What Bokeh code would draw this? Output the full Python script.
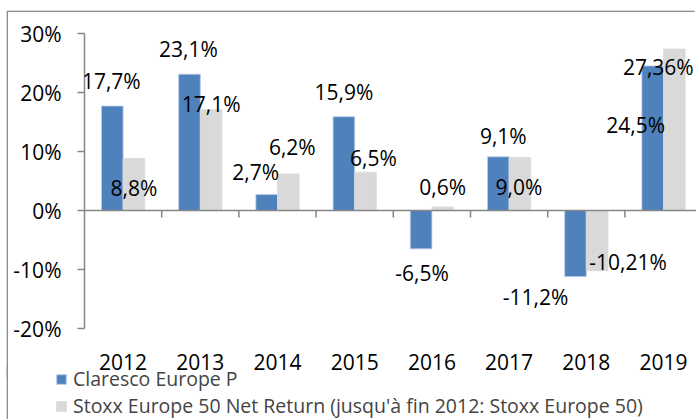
import math
from bokeh.plotting import figure
from bokeh.layouts import column
from bokeh.models import (Range1d, FixedTicker, LabelSet, ColumnDataSource, Span,
                          Legend, LegendItem)
from bokeh.core.properties import value
from bokeh.transform import dodge
from bokeh.embed import file_html
from bokeh.resources import INLINE

# ---- data ----
years = ["2012", "2013", "2014", "2015", "2016", "2017", "2018", "2019"]
claresco = [17.7, 23.1, 2.7, 15.9, -6.5, 9.1, -11.2, 24.5]
stoxx = [8.8, 17.1, 6.2, 6.5, 0.6, 9.0, -10.21, 27.36]
claresco_labels = ["17,7%", "23,1%", "2,7%", "15,9%", "-6,5%", "9,1%", "-11,2%", "24,5%"]
stoxx_labels = ["8,8%", "17,1%", "6,2%", "6,5%", "0,6%", "9,0%", "-10,21%", "27,36%"]
y_ticks = [-20, -10, 0, 10, 20, 30]
series_names = ["Claresco Europe P",
                "Stoxx Europe 50 Net Return (jusqu'à fin 2012: Stoxx Europe 50)"]

# label placement offsets (screen px, +dx right, +dy down)
claresco_dx = [-1, -1, -11, 0, 1, 5, -40, -17]
claresco_dy = [-25, -25, -23, -25, 24, -21, 20, 59]
stoxx_dx = [0, 0, 4, 8, 0, -1, 31, -16]
stoxx_dy = [29, -6, -27, -14, -20, 30, -9, 18]

FONT = "Open Sans"
FS = "21px"
LEG_FS = "19.5px"
BLUE = "#4F81BD"
GREY = "#D9D9D9"
AXIS = "#868686"
BORDER = "#8C8C8C"

idx = list(range(len(years)))
src = ColumnDataSource(dict(
    x=idx, a=claresco, b=stoxx, la=claresco_labels, lb=stoxx_labels,
    adx=claresco_dx, ady=[-d for d in claresco_dy],
    bdx=stoxx_dx, bdy=[-d for d in stoxx_dy],
))

OX, OY = 8, 12            # chart area offset in the page
W, H = 696 - OX, 419 - OY
left_px, top_px = 84 - OX, 33 - OY
frame_bottom = 328 - OY
below_px = 52
H1 = frame_bottom + below_px
overlap = 15
H2 = H - H1 + overlap
frame_w = W - left_px
cat_px = 77.2
x_start = -0.5
x_end = x_start + frame_w / cat_px

p = figure(width=W, height=H1, output_backend="svg", toolbar_location=None,
           x_range=Range1d(x_start, x_end), y_range=Range1d(-20, 30),
           min_border_left=left_px, min_border_right=0, min_border_top=top_px,
           min_border_bottom=below_px)
p.frame_align = False
p.styles = {"box-shadow": f"-1.3px -1.3px 0 0 {BORDER}"}
p.outline_line_color = None
p.xgrid.visible = False
p.ygrid.visible = False
p.background_fill_color = "white"
p.border_fill_color = "white"

# y axis
ya = p.yaxis[0]
ya.ticker = FixedTicker(ticks=y_ticks)
ya.major_label_overrides = {t: f"{t}%" for t in y_ticks}
ya.axis_line_color = AXIS
ya.axis_line_width = 1.5
ya.major_tick_line_color = AXIS
ya.major_tick_line_width = 1.5
ya.major_tick_out = 7
ya.major_tick_in = 0
ya.minor_tick_line_color = None
ya.major_label_standoff = 16
ya.major_label_text_font = FONT
ya.major_label_text_font_size = FS
ya.major_label_text_color = "black"

# x axis (labels only, at bottom)
xa = p.xaxis[0]
xa.ticker = FixedTicker(ticks=idx)
xa.major_label_overrides = {i: y for i, y in zip(idx, years)}
xa.axis_line_color = None
xa.major_tick_line_color = None
xa.major_tick_out = 0
xa.major_tick_in = 0
xa.minor_tick_line_color = None
xa.major_label_standoff = 25
xa.major_label_text_font = FONT
xa.major_label_text_font_size = FS
xa.major_label_text_color = "black"

# bars
r1 = p.vbar(x=dodge("x", -0.14), top="a", bottom=0, width=0.28, source=src,
            fill_color=BLUE, line_color="#B9CDE5", line_width=0.8)
r2 = p.vbar(x=dodge("x", 0.14), top="b", bottom=0, width=0.28, source=src,
            fill_color=GREY, line_color=GREY, line_width=0.8)

# zero line and category boundary ticks
p.add_layout(Span(location=0, dimension="width", line_color=AXIS, line_width=1.5))
bounds = [i + 0.5 for i in idx]
p.ray(x=bounds, y=[0] * len(bounds), length=7, length_units="screen",
      angle=-math.pi / 2, line_color=AXIS, line_width=1.5)

# data labels
for xo, col, dx, dy in ((-0.14, "a", "adx", "ady"), (0.14, "b", "bdx", "bdy")):
    p.add_layout(LabelSet(x=dodge("x", xo), y=col, text="l" + col, source=src,
                          x_offset=dx, y_offset=dy, text_align="center",
                          text_baseline="middle", text_font=value(FONT),
                          text_font_size=value(FS), text_color="black"))

# legend panel (transparent, slightly overlapping the chart's bottom margin)
p2 = figure(width=W, height=H2, output_backend="svg", toolbar_location=None,
            x_axis_location=None, y_axis_location=None,
            min_border_left=55 - OX, min_border_right=0, min_border_top=0,
            min_border_bottom=0, margin=(-overlap, 0, 0, 0))
p2.frame_align = False
p2.styles = {"box-shadow": f"-1.3px 0 0 0 {BORDER}"}
p2.outline_line_color = None
p2.background_fill_color = None
p2.border_fill_color = None
p2.xgrid.visible = False
p2.ygrid.visible = False
g1 = p2.vbar(x="x", top="a", width=0.28, source=src, fill_color=BLUE,
             line_color="#B9CDE5", visible=False)
g2 = p2.vbar(x="x", top="b", width=0.28, source=src, fill_color=GREY,
             line_color=GREY, visible=False)
legend = Legend(items=[LegendItem(label=series_names[0], renderers=[g1]),
                       LegendItem(label=series_names[1], renderers=[g2])],
                location="top_left", orientation="vertical",
                glyph_width=12, glyph_height=12, label_standoff=6,
                label_text_font=FONT, label_text_font_size=LEG_FS,
                label_text_line_height=1.0,
                label_height=20, spacing=-3, padding=0, margin=0,
                inactive_fill_alpha=0,
                border_line_color=None, background_fill_alpha=0)
p2.add_layout(legend, "center")

layout = column(p, p2, spacing=0, margin=(OY, 0, 0, OX))

open("out.html", "w").write(file_html(layout, INLINE))
